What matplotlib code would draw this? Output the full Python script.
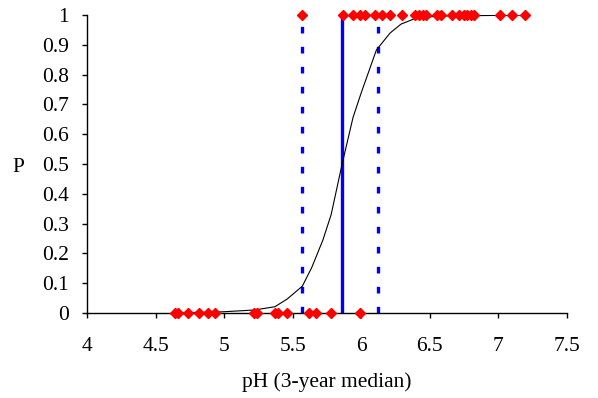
"""Logistic fit of presence probability against pH (3-year median)."""

import matplotlib

matplotlib.use("Agg")
import matplotlib.pyplot as plt  # noqa: E402

# observed sites: absent (P = 0) and present (P = 1)
ph_absent = [4.64, 4.66, 4.74, 4.82, 4.88, 4.93, 5.22, 5.24, 5.37, 5.39,
             5.46, 5.62, 5.67, 5.78, 5.99]
ph_present = [5.57, 5.87, 5.94, 5.99, 6.03, 6.10, 6.15, 6.21, 6.30, 6.39,
              6.42, 6.45, 6.47, 6.55, 6.58, 6.66, 6.71, 6.75, 6.77, 6.80,
              6.82, 7.01, 7.10, 7.19]

# fitted curve
curve_ph = [4.64, 4.99, 5.22, 5.37, 5.46, 5.57, 5.64, 5.72, 5.78, 5.86,
            5.94, 6.00, 6.11, 6.21, 6.29, 6.40, 6.57, 7.19]
curve_p = [0.0, 0.004, 0.01, 0.021, 0.047, 0.09, 0.154, 0.245, 0.33, 0.50,
           0.657, 0.74, 0.883, 0.94, 0.97, 0.99, 0.997, 1.0]

# P = 0.5 and the 0.1 / 0.9 bounds
ph_mid = 5.86
ph_bounds = [5.57, 6.12]

plt.rcParams["font.family"] = ["Liberation Serif", "DejaVu Serif"]
plt.rcParams["font.size"] = 15.5

fig = plt.figure(figsize=(5.98, 3.98), dpi=100)
ax = fig.add_axes([0.1455, 0.2136, 0.8027, 0.7484])

for xb in ph_bounds:
    ax.plot([xb, xb], [0, 1], color="#0000ff", lw=2.4,
            ls=(0, (2, 4)), dash_capstyle="butt", zorder=2)
ax.plot([ph_mid, ph_mid], [0, 1], color="#0000ff", lw=2.4, zorder=2)

ax.plot(curve_ph, curve_p, color="k", lw=0.8, zorder=3)

ax.plot(ph_absent, [0] * len(ph_absent), "D", color="#ff0000", ms=4.6,
        mec="#ff0000", clip_on=False, zorder=4)
ax.plot(ph_present, [1] * len(ph_present), "D", color="#ff0000", ms=4.6,
        mec="#ff0000", clip_on=False, zorder=4)

ax.set_xlim(4, 7.5)
ax.set_ylim(0, 1)
ax.set_xticks([4, 4.5, 5, 5.5, 6, 6.5, 7, 7.5])
ax.set_xticklabels(["4", "4.5", "5", "5.5", "6", "6.5", "7", "7.5"])
ax.set_yticks([i / 10 for i in range(11)])
ax.set_yticklabels(["0"] + [f"{i / 10:.1f}" for i in range(1, 10)] + ["1"])

for side in ("top", "right"):
    ax.spines[side].set_visible(False)
for side in ("left", "bottom"):
    ax.spines[side].set_linewidth(1.0)
ax.tick_params(axis="x", direction="out", length=3.6, width=1.0, pad=13.5)
ax.tick_params(axis="y", direction="out", length=3.6, width=1.0, pad=9.4)

ax.set_xlabel("pH (3-year median)", labelpad=12)
ax.set_ylabel("P", rotation=0, va="center", ha="center")
ax.yaxis.set_label_coords(-0.142, 0.488)

fig.savefig("out.png", dpi=100)
